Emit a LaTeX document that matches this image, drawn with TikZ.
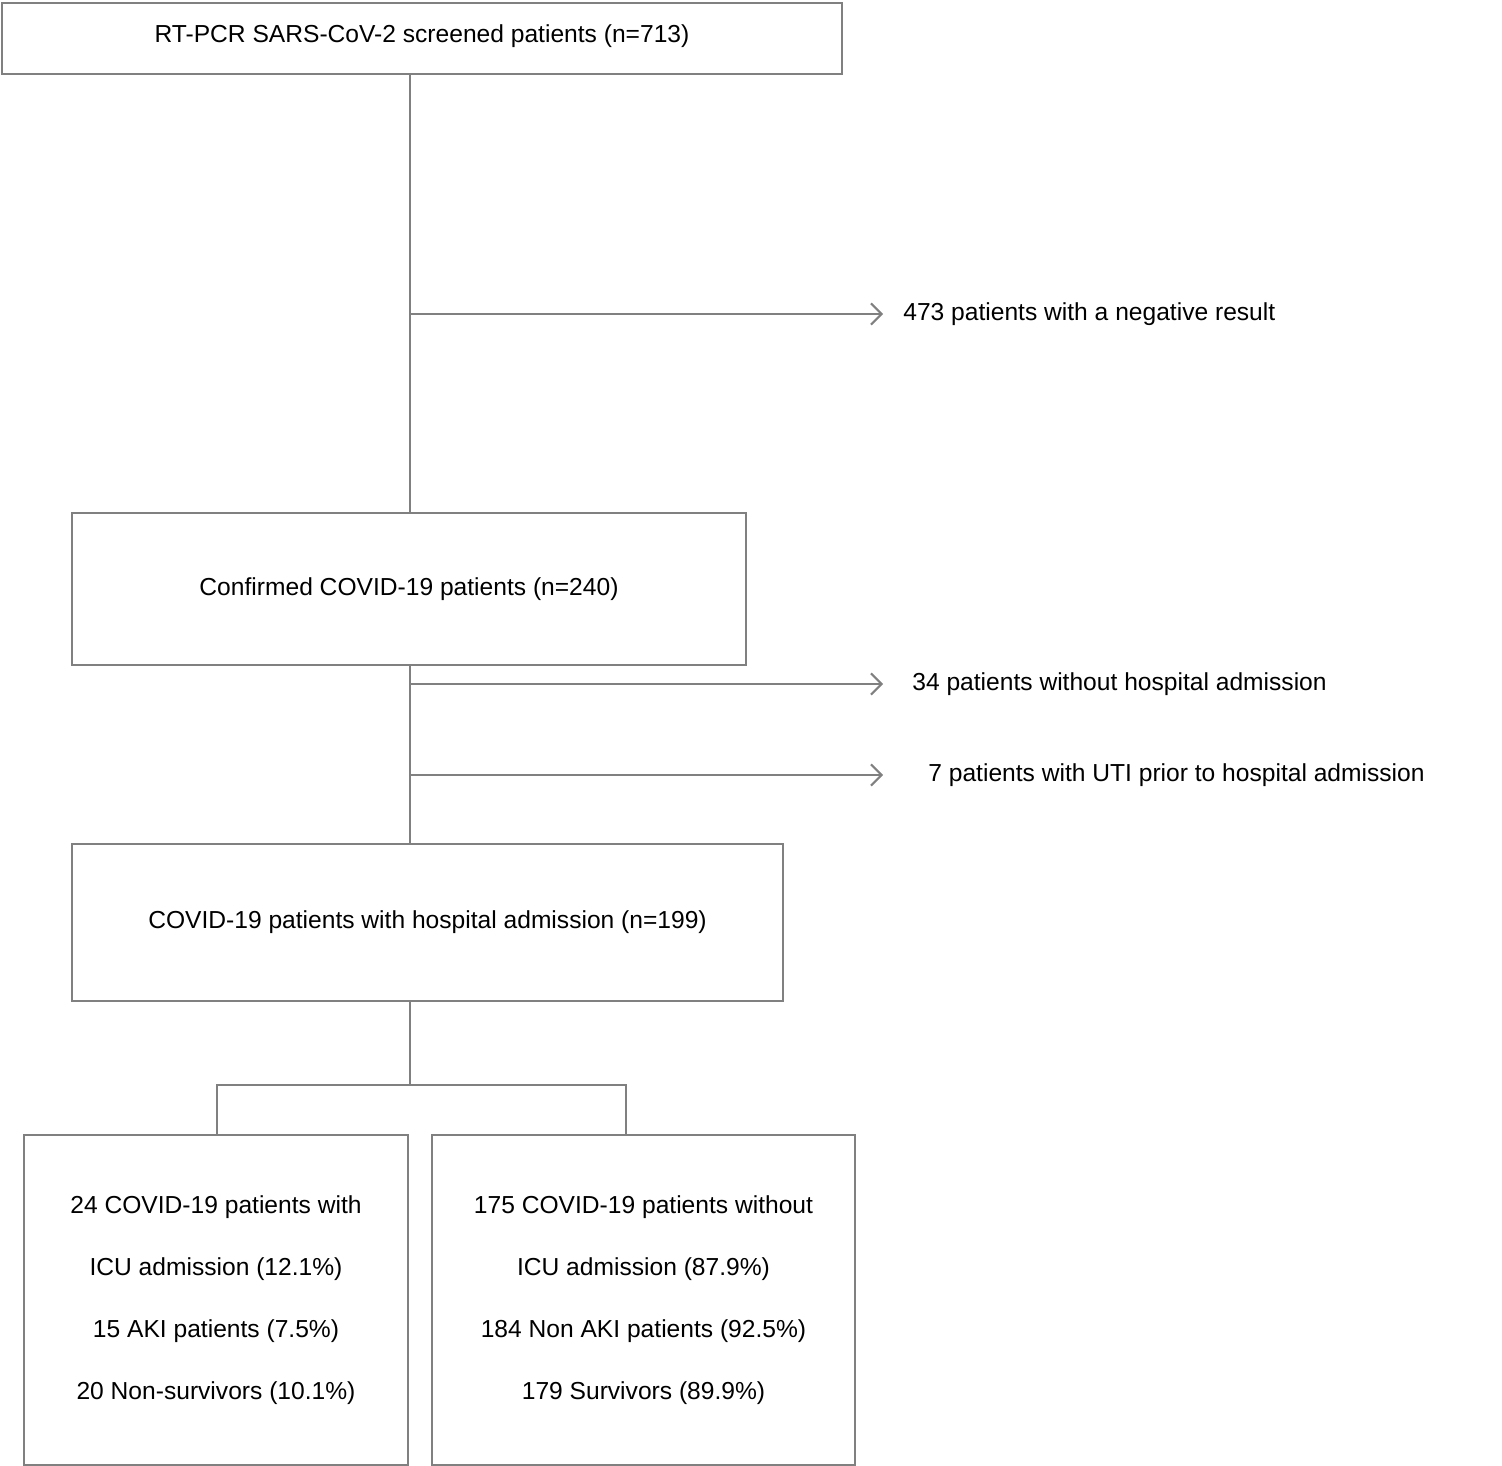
\documentclass[tikz,border=0pt]{standalone}
\usepackage{fontspec}
\setmainfont{Liberation Sans}
\usetikzlibrary{arrows.meta}
\tikzset{
	box/.style={draw=linegray, line width=1.2pt, align=center, inner sep=0pt},
	side/.style={anchor=west, inner sep=0pt},
	link/.style={draw=linegray, line width=1.2pt},
}
\definecolor{linegray}{RGB}{128,128,128}
\begin{document}
\begin{tikzpicture}[
		x=0.02cm, y=-0.02cm, % pixel grid
		> = {Straight Barb[length=6pt, width=12pt]}, % open arrow head
		font=\fontsize{14}{17}\selectfont,
	]
	\useasboundingbox (0,0) rectangle (1502,1466);
	\node[box, minimum width=16.8cm, minimum height=1.42cm] (screen) at (422,38.5){\raisebox{0.2cm}{RT-PCR SARS-CoV-2 screened patients (n=713)}};
	\node[box, minimum width=13.48cm, minimum height=3.04cm] (conf) at (409,589){\raisebox{-0.1cm}{Confirmed COVID-19 patients (n=240)}};
	\node[box, minimum width=14.22cm, minimum height=3.14cm] (hosp) at (427.5,922.5){\raisebox{-0.2cm}{COVID-19 patients with hospital admission (n=199)}};
	\node[box, minimum width=7.68cm, minimum height=6.6cm, font=\fontsize{14}{35.2}\selectfont] (icu) at (216,1300){\raisebox{-0.3cm}{\parbox{7cm}{\centering 24 COVID-19 patients with\\ ICU admission (12.1\%)\\ 15 AKI patients (7.5\%)\\ 20 Non-survivors (10.1\%)}}};
	\node[box, minimum width=8.46cm, minimum height=6.6cm, font=\fontsize{14}{35.2}\selectfont] (noicu) at (643.5,1300){\raisebox{-0.3cm}{\parbox{8cm}{\centering 175 COVID-19 patients without\\ ICU admission (87.9\%)\\ 184 Non AKI patients (92.5\%)\\ 179 Survivors (89.9\%)}}};

	\node[side] (neg) at (903,314){473 patients with a negative result};
	\node[side] (noadm) at (912,684){34 patients without hospital admission};
	\node[side] (uti) at (928,775){7 patients with UTI prior to hospital admission};

	\coordinate (b1) at (410,314);
	\coordinate (b2) at (410,684);
	\coordinate (b3) at (410,775);
	\coordinate (split) at (410,1085);
	\coordinate (sl) at (217,1085);
	\coordinate (sr) at (626,1085);

	\draw[link] (410,74) -- (410,513);
	\draw[link] (410,665) -- (410,844);
	\draw[link,->] (b1) -- (883,314);
	\draw[link,->] (b2) -- (883,684);
	\draw[link,->] (b3) -- (883,775);
	\draw[link] (410,1001) -- (split);
	\draw[link] (icu.north -| sl) -- (sl) -- (sr) -- (noicu.north -| sr);
\end{tikzpicture}
\end{document}
